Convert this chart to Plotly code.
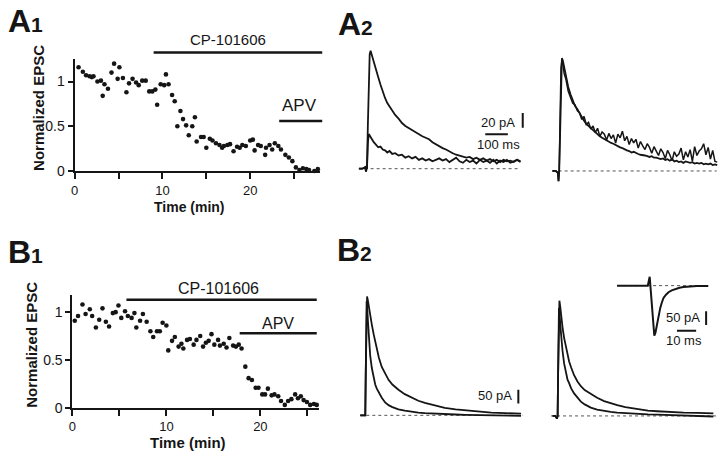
import plotly.graph_objects as go

# ================= DATA =================
# A1: normalized EPSC vs time (min)
a1_time = [0.45, 0.94, 1.3, 1.7, 1.96, 2.15, 2.6, 3.0, 3.2, 3.4,
           3.8, 4.2, 4.5, 4.9, 5.1, 5.5, 5.9, 6.2, 6.6, 7.0,
           7.3, 7.7, 8.1, 8.5, 8.85, 9.2, 9.4, 9.8, 10.2, 10.4,
           10.7, 11.1, 11.4, 11.7, 12.05, 12.35, 12.7, 13.0, 13.4, 13.7,
           13.9, 14.4, 14.7, 15.0, 15.4, 15.7, 16.1, 16.5, 16.8, 17.0,
           17.4, 17.7, 18.1, 18.5, 18.8, 19.1, 19.5, 20.0, 20.3, 20.5,
           20.9, 21.2, 21.7, 21.8, 22.2, 22.5, 22.8, 23.2, 23.5, 24.0,
           24.4, 24.8, 25.2, 25.6, 26.0, 26.4, 26.7, 27.3, 27.7]
a1_epsc = [1.16, 1.11, 1.07, 1.06, 1.05, 1.06, 1.0, 1.01, 0.84, 0.97,
           0.92, 1.1, 1.2, 1.03, 1.16, 1.04, 0.88, 0.98, 1.03, 0.99,
           0.96, 1.01, 1.01, 0.89, 0.89, 0.91, 0.74, 0.97, 0.96, 1.08,
           0.97, 0.85, 0.78, 0.5, 0.67, 0.58, 0.51, 0.40, 0.50, 0.60,
           0.33, 0.38, 0.38, 0.26, 0.36, 0.34, 0.31, 0.29, 0.26, 0.28,
           0.29, 0.30, 0.22, 0.27, 0.26, 0.29, 0.28, 0.34, 0.35, 0.23,
           0.29, 0.28, 0.18, 0.26, 0.29, 0.24, 0.31, 0.28, 0.24, 0.18,
           0.15, 0.11, 0.04, 0.01, 0.03, 0.02, 0.01, 0.0, 0.02]

# B1: normalized EPSC vs time (min)
b1_time = [0.25, 0.6, 1.07, 1.4, 1.85, 2.1, 2.5, 2.85, 3.2, 3.56,
           3.9, 4.3, 4.6, 4.9, 5.2, 5.6, 5.9, 6.3, 6.6, 6.8,
           7.2, 7.5, 7.9, 8.3, 8.6, 9.0, 9.3, 9.6, 10.0, 10.2,
           10.6, 10.9, 11.3, 11.6, 11.8, 12.2, 12.5, 12.9, 13.2, 13.6,
           13.9, 14.2, 14.5, 14.8, 15.1, 15.5, 15.7, 16.1, 16.4, 16.7,
           17.1, 17.4, 17.7, 18.0, 18.4, 18.75, 19.1, 19.5, 19.8, 20.2,
           20.5, 20.8, 21.2, 21.5, 21.9, 22.2, 22.6, 22.95, 23.3, 23.7,
           24.0, 24.3, 24.6, 24.95, 25.3, 25.7, 26.0]
b1_epsc = [0.91, 0.96, 1.08, 0.98, 1.03, 0.96, 0.84, 0.92, 1.04, 0.90,
           0.85, 0.99, 1.0, 1.07, 0.94, 1.01, 0.96, 0.94, 0.99, 0.84,
           0.91, 0.98, 0.90, 0.80, 0.74, 0.80, 0.80, 0.89, 0.86, 0.60,
           0.70, 0.74, 0.64, 0.67, 0.62, 0.71, 0.72, 0.66, 0.71, 0.75,
           0.64, 0.68, 0.70, 0.77, 0.66, 0.71, 0.65, 0.67, 0.63, 0.73,
           0.65, 0.64, 0.66, 0.62, 0.43, 0.31, 0.29, 0.21, 0.21, 0.14,
           0.14, 0.20, 0.13, 0.14, 0.12, 0.07, 0.03, 0.07, 0.09, 0.14,
           0.10, 0.12, 0.08, 0.06, 0.03, 0.04, 0.03]

# drug application periods (min)
a1_cp_period = [9.0, 28.2]
a1_apv_period = [23.3, 28.2]
b1_cp_period = [5.75, 26.0]
b1_apv_period = [17.8, 26.0]

time_tickvals = [0, 5, 10, 15, 20, 25]
time_ticktext = ["0", "", "10", "", "20", ""]
epsc_tickvals = [0, 0.5, 1]
epsc_ticktext = ["0", "0.5", "1"]

# A2 left: EPSCs before and during CP-101606 (ms, pA)
a2_t_left = [-35, -20, -8, -4, -1, 0, 4, 8, 12, 16,
             22, 30, 40, 50, 60, 70, 80, 90, 100, 112,
             125, 140, 155, 170, 185, 200, 215, 230, 245, 260,
             275, 290, 305, 320, 335, 350, 365, 380, 395, 410,
             425, 440, 455, 470, 485, 500, 515, 530, 545, 560,
             575, 590, 605, 620, 635, 650, 665, 680]
a2_left_control = [0, 0, 2, -4, 3, 0, 60, 125, 155, 160,
                   153, 146, 134, 124, 114, 104, 96, 89, 84, 79,
                   73, 68, 62, 58, 55, 52, 49, 47, 44, 42,
                   40, 36, 33, 30, 28, 26, 23, 21, 19, 18,
                   17, 15, 16, 13, 15, 12, 14, 11, 13, 10,
                   12, 9, 12, 10, 11, 9, 12, 10]
a2_left_cp = [0, 0, 2, -4, 3, 0, 35, 47, 45, 42,
              40, 36, 33, 29, 30, 26, 25, 22, 24, 20,
              21, 18, 19, 15, 17, 14, 16, 12, 14, 11,
              13, 10, 12, 14, 11, 13, 9, 12, 15, 10,
              8, 12, 9, 11, 7, 12, 9, 11, 8, 12,
              7, 11, 9, 12, 8, 10, 12, 9]

# A2 right: same EPSCs scaled to peak
a2_t_right = [-30, -15, -6, -3, 0, 4, 8, 12, 16, 22,
              30, 40, 50, 60, 70, 80, 90, 100, 110, 120,
              130, 140, 150, 160, 170, 180, 190, 200, 210, 220,
              230, 240, 250, 260, 270, 280, 290, 300, 310, 320,
              330, 340, 350, 360, 370, 380, 390, 400, 410, 420,
              430, 440, 450, 460, 470, 480, 490, 500, 510, 520,
              530, 540, 550, 560, 570, 580, 590, 600, 610, 620,
              630, 640, 650, 660, 670, 680, 690, 700]
a2_right_control = [0, 0, -2, -14, 0, 70, 135, 153, 150, 140,
                    127, 114, 104, 95, 88, 84, 78, 72, 68, 64,
                    61, 58, 55, 52, 50, 47, 45, 43, 42, 40,
                    38, 37, 35, 33, 32, 31, 29, 28, 27, 25,
                    26, 24, 23, 22, 22, 21, 20, 19, 20, 18,
                    18, 17, 16, 17, 15, 16, 14, 16, 13, 14,
                    12, 13, 11, 13, 12, 11, 12, 10, 11, 10,
                    11, 9, 10, 9, 10, 8, 9, 8]
a2_right_cp_scaled = [0, 0, -3, -14, 0, 75, 140, 150, 146, 132,
                      124, 108, 101, 92, 90, 82, 79, 70, 74, 63,
                      66, 57, 61, 52, 58, 47, 53, 50, 42, 51,
                      44, 49, 38, 50, 45, 54, 41, 47, 36, 44,
                      38, 43, 31, 40, 34, 29, 37, 32, 24, 33,
                      27, 21, 30, 25, 17, 28, 22, 14, 26, 20,
                      23, 31, 15, 26, 19, 29, 13, 33, 21, 27,
                      30, 37, 22, 32, 16, 28, 13, 12]

# B2: EPSCs (ms, pA)
b2_t = [-22, -10, -3, 0, 2, 4, 6, 8, 12, 16,
        22, 29, 37, 44, 51, 60, 73, 88, 103, 120,
        147, 175, 206, 235, 264, 300, 352, 400, 441, 500,
        558, 620, 690]
b2_left_control = [0, 0, 0, 0, 150, 330, 420, 432, 415, 392,
                   367, 330, 295, 265, 236, 210, 176, 150, 129, 112,
                   93, 77, 63, 53, 45, 37, 27, 22, 19, 14,
                   9.5, 8, 6]
b2_left_cp = [0, 0, 0, 0, 150, 330, 415, 400, 340, 285,
              215, 172, 135, 112, 97, 82, 64, 47, 37, 30,
              22, 17, 12, 10, 8, 6, 4, 3, 2, 1,
              0, -1, -2]
b2_right_control = [0, 0, -10, 0, 140, 310, 405, 419, 395, 360,
                    321, 283, 250, 222, 198, 176, 148, 125, 108, 94,
                    79, 66, 54, 46, 39, 32, 24, 19, 17, 14,
                    12, 11, 9.5]
b2_right_cp = [0, 0, -10, 0, 140, 300, 393, 380, 330, 286,
               235, 190, 152, 132, 119, 100, 82, 65, 52, 42,
               30, 23, 18, 15, 12, 10, 8, 6, 5, 3,
               1, 0, -2]

# inset: fast EPSC (ms, pA)
inset_t = [-17, -5, -1, 0, 0.3, 0.6, 1.2, 1.8, 2.4, 3.0,
           3.8, 4.6, 5.5, 6.3, 7.2, 8.5, 9.8, 11.5, 13.3, 15.5,
           17.6, 21, 24.5, 28, 30.5]
inset_i = [0, 0, 0, 32, 4, -25, -92, -150, -182, -171,
           -140, -108, -81, -62, -45, -33, -24, -17, -12, -7.5,
           -5, -2.5, -1.2, -1, -1]

# baselines (ms)
a2_left_base = [-37, 674]
a2_right_base = [-29, 698]
b2_left_base = [-22, 697]
b2_right_base = [-29, 705]
inset_base = [-17, 30.5]

# scale bars
a2_bar_pa, a2_bar_ms = 20, 100
b2_bar_pa = 50
inset_bar_pa, inset_bar_ms = 50, 10

# ================= LAYOUT =================
W, H = 720, 459
FONT = "Liberation Sans, Arial, sans-serif"
INK = "#151515"

fig = go.Figure()
axes = {}


def add_axes(n, px0, px1, py_top, py_bot, ox, oy, sx, sy):
    xr = [(px0 - ox) / sx, (px1 - ox) / sx]
    yr = [(oy - py_bot) / sy, (oy - py_top) / sy]
    xs = "" if n == 1 else str(n)
    axes["xaxis" + xs] = dict(domain=[px0 / W, px1 / W], range=xr, anchor="y" + xs,
                              visible=False, fixedrange=True)
    axes["yaxis" + xs] = dict(domain=[1 - py_bot / H, 1 - py_top / H], range=yr,
                              anchor="x" + xs, visible=False, fixedrange=True)
    return "x" + xs, "y" + xs


A1 = add_axes(1, 71, 317.5, 60, 174, 71, 174, 8.83, 91.0)
A1o = add_axes(2, 71, 328, 20, 174, 71, 174, 8.83, 91.0)
B1 = add_axes(3, 68.8, 316.5, 300, 415, 68.8, 415, 9.45, 97.3)
B1o = add_axes(4, 68.8, 324, 270, 415, 68.8, 415, 9.45, 97.3)
A2L = add_axes(5, 350, 530, 40, 185, 365, 171.7, 0.227, 0.75)
A2R = add_axes(6, 545, 720, 45, 190, 558.3, 174, 0.227, 0.75)
B2L = add_axes(7, 350, 530, 290, 435, 363.3, 422.7, 0.227, 0.28)
B2R = add_axes(8, 545, 720, 290, 435, 556.7, 423.3, 0.227, 0.28)
INS = add_axes(9, 612, 714, 270, 356, 649.3, 290.7, 1.93, 0.28)

for xs in ["", "3"]:
    axes["xaxis" + xs].update(visible=True, showline=True, linecolor=INK, linewidth=2,
                              ticks="outside", ticklen=6, tickwidth=2, tickcolor=INK,
                              tickvals=time_tickvals, ticktext=time_ticktext,
                              tickfont=dict(family=FONT, size=13, color=INK),
                              showgrid=False, zeroline=False)
    axes["yaxis" + xs].update(visible=True, showline=True, linecolor=INK, linewidth=2,
                              ticks="outside", ticklen=5, tickwidth=2, tickcolor=INK,
                              tickvals=epsc_tickvals, ticktext=epsc_ticktext,
                              tickfont=dict(family=FONT, size=14, color=INK),
                              showgrid=False, zeroline=False)


def dots(ax, t, v):
    fig.add_trace(go.Scatter(x=t, y=v, mode="markers", xaxis=ax[0], yaxis=ax[1],
                             marker=dict(size=4.6, color=INK), cliponaxis=False,
                             showlegend=False, hoverinfo="skip"))


def line(ax, t, v, width=2, dash="solid", color=INK):
    fig.add_trace(go.Scatter(x=t, y=v, mode="lines", xaxis=ax[0], yaxis=ax[1],
                             line=dict(color=color, width=width, dash=dash),
                             showlegend=False, hoverinfo="skip"))


annotations = []


def text(ax, x, y, s, size=13, bold=False, angle=0):
    annotations.append(dict(x=x, y=y, xref=ax[0], yref=ax[1],
                            text=("<b>%s</b>" % s) if bold else s, showarrow=False,
                            xanchor="center", yanchor="middle", textangle=angle,
                            font=dict(family=FONT, size=size, color=INK)))


def ptext(px, py, s, size, bold=False, angle=0, xanchor="center"):
    annotations.append(dict(x=px / W, y=1 - py / H, xref="paper", yref="paper",
                            text=("<b>%s</b>" % s) if bold else s, showarrow=False,
                            xanchor=xanchor, yanchor="middle", textangle=angle,
                            font=dict(family=FONT, size=size, color=INK)))


# ---- A1 ----
dots(A1, a1_time, a1_epsc)
line(A1o, a1_cp_period, [1.325, 1.325], width=2.5)
line(A1o, a1_apv_period, [0.56, 0.56], width=2.5)
text(A1o, 17.5, 1.47, "CP-101606", size=15)
text(A1o, 25.6, 0.73, "APV", size=17)

# ---- B1 ----
dots(B1, b1_time, b1_epsc)
line(B1o, b1_cp_period, [1.13, 1.13], width=2.5)
line(B1o, b1_apv_period, [0.78, 0.78], width=2.5)
text(B1o, 15.5, 1.25, "CP-101606", size=16)
text(B1o, 21.9, 0.885, "APV", size=16)

# ---- A2 ----
line(A2L, a2_left_base, [0, 0], width=1, dash="dot", color="#555")
line(A2L, a2_t_left, a2_left_cp, width=1.8)
line(A2L, a2_t_left, a2_left_control, width=1.8)
line(A2L, [690, 690], [55.6, 55.6 + a2_bar_pa], width=2)
line(A2L, [524, 524 + a2_bar_ms], [46.7, 46.7], width=2)
text(A2L, 580, 62.3, "20 pA", size=13)
text(A2L, 584, 32.3, "100 ms", size=13)

line(A2R, a2_right_base, [0, 0], width=1, dash="dot", color="#555")
line(A2R, a2_t_right, a2_right_control, width=1.8)
line(A2R, a2_t_right, a2_right_cp_scaled, width=1.5)

# ---- B2 ----
line(B2L, b2_left_base, [0, 0], width=1, dash="dot", color="#555")
line(B2L, b2_t, b2_left_cp, width=1.8)
line(B2L, b2_t, b2_left_control, width=1.8)
line(B2L, [678, 678], [43, 43 + b2_bar_pa], width=2)
text(B2L, 573, 72, "50 pA", size=13)

line(B2R, b2_right_base, [0, 0], width=1, dash="dot", color="#555")
line(B2R, b2_t, b2_right_cp, width=1.8)
line(B2R, b2_t, b2_right_control, width=1.8)

line(INS, inset_base, [0, 0], width=1, dash="dot", color="#555")
line(INS, inset_t, inset_i, width=2)
line(INS, [29.4, 29.4], [-143, -143 + inset_bar_pa], width=2)
line(INS, [14.2, 14.2 + inset_bar_ms], [-164, -164], width=2)
text(INS, 17.6, -116, "50 pA", size=13)
text(INS, 17.7, -200, "10 ms", size=13)

# ---- axis titles and panel letters ----
ptext(34, 110, "Normalized EPSC", 15, bold=True, angle=-90)
ptext(28, 351, "Normalized EPSC", 15, bold=True, angle=-90)
ptext(187, 210.5, "Time (min)", 14, bold=True)
ptext(185, 450, "Time (min)", 15, bold=True)

for letter, sub, lx, ly in [("A", "1", 2.5, 21),
                            ("A", "2", 333.5, 24),
                            ("B", "1", 2.5, 256),
                            ("B", "2", 332.5, 254)]:
    ptext(lx, ly, "%s<span style='font-size:21px'>%s</span>" % (letter, sub),
          32, bold=True, xanchor="left")

fig.update_layout(width=W, height=H, autosize=False,
                  margin=dict(l=0, r=0, t=0, b=0),
                  paper_bgcolor="white", plot_bgcolor="rgba(0,0,0,0)",
                  showlegend=False, annotations=annotations, **axes)

fig.write_html("out.html", config={"displayModeBar": False, "staticPlot": True},
               post_script="document.documentElement.style.margin='0';"
                           "document.body.style.margin='0';"
                           "document.documentElement.style.overflow='hidden';"
                           "document.body.style.overflow='hidden';")
